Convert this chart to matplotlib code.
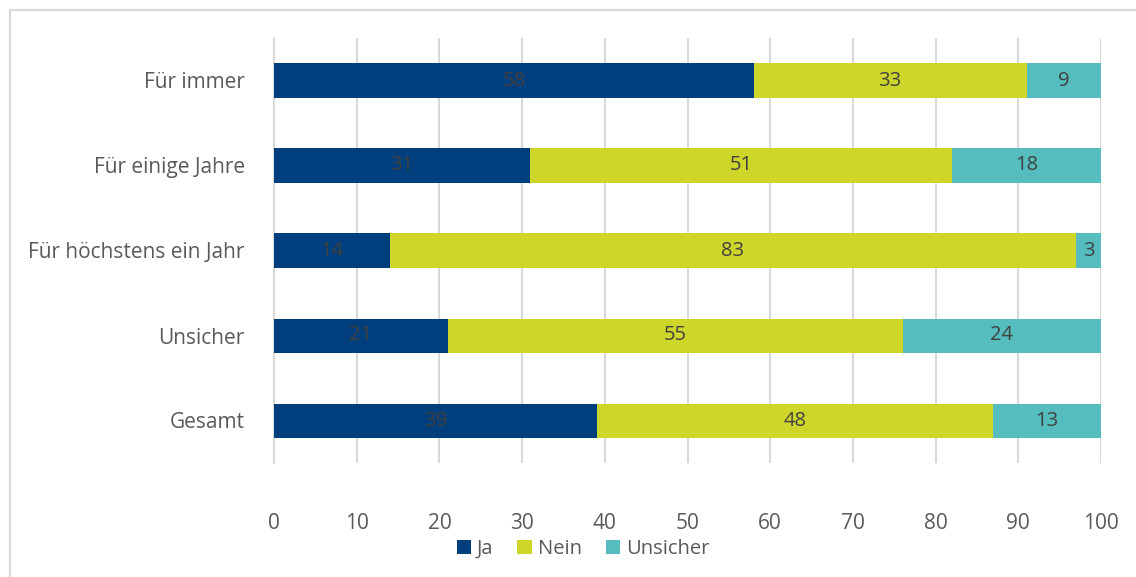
import matplotlib.pyplot as plt
import numpy as np
from matplotlib.patches import Rectangle

plt.rcParams['font.family'] = ['Open Sans', 'DejaVu Sans']

# categories top to bottom
categories = ['Für immer', 'Für einige Jahre', 'Für höchstens ein Jahr', 'Unsicher', 'Gesamt']
ja = [58, 31, 14, 21, 39]
nein = [33, 51, 83, 55, 48]
unsicher = [9, 18, 3, 24, 13]
series_names = ['Ja', 'Nein', 'Unsicher']
colors = ['#003F7D', '#CFD62A', '#55BDBE']


def make_graph():
    """
    Stacked horizontal bar chart
    :return:
    """
    fig = plt.figure(figsize=(11.36, 5.77), dpi=100)
    # light frame around the chart area
    fig.patches.append(Rectangle((10 / 1136, -0.05), 1.1, 1 - 10 / 577 + 0.05,
                                 transform=fig.transFigure, fill=False,
                                 edgecolor='#D9D9D9', linewidth=1.5))
    ax = fig.add_axes([274 / 1136, 1 - 463 / 577, (1101 - 274) / 1136, (463 - 38) / 577])

    y = np.arange(len(categories))[::-1]
    left = np.zeros(len(categories))
    for name, vals, col in zip(series_names, [ja, nein, unsicher], colors):
        vals = np.array(vals)
        bars = ax.barh(y, vals, left=left, height=0.4, color=col, label=name, zorder=3)
        for b, v in zip(bars, vals):
            ax.text(b.get_x() + b.get_width() / 2, b.get_y() + b.get_height() / 2, str(v),
                    ha='center', va='center', fontsize=14.5, color='#404040', zorder=4)
        left += vals

    ax.set_xlim(0, 100)
    ax.set_ylim(-0.5, len(categories) - 0.5)
    ax.set_xticks(range(0, 101, 10))
    ax.set_yticks(y)
    ax.set_yticklabels(categories)
    ax.tick_params(axis='both', length=0, labelsize=15, colors='#595959')
    ax.tick_params(axis='x', pad=36)
    ax.tick_params(axis='y', pad=21)
    ax.grid(axis='x', color='#D9D9D9', linewidth=1.5, zorder=0)
    for s in ['top', 'right', 'bottom']:
        ax.spines[s].set_visible(False)
    ax.spines['left'].set_color('#D9D9D9')
    ax.spines['left'].set_linewidth(1.5)

    fig.legend(loc='center', bbox_to_anchor=(583 / 1136, 1 - 549 / 577), ncol=3, frameon=False,
               fontsize=14.5, labelcolor='#595959', handlelength=0.7, handleheight=0.7,
               handletextpad=0.3, columnspacing=1.2)
    fig.savefig('out.png', dpi=100)


if __name__ == '__main__':
    make_graph()
